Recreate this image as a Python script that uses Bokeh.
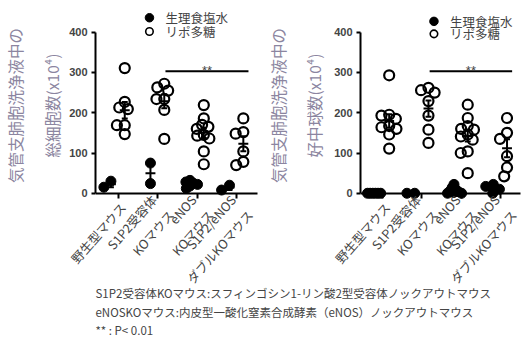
import numpy as np
from bokeh.plotting import figure
from bokeh.models import Range1d, FixedTicker, Label, LinearAxis
from bokeh.layouts import column, row
from bokeh.embed import file_html
from bokeh.resources import INLINE

# ---------------- data ----------------
groups = ["野生型マウス", "S1P2受容体\nKOマウス", "eNOS\nKOマウス", "S1P2/eNOS\nダブルKOマウス"]
group_pos = [1, 2, 3, 4]
series = ["生理食塩水", "リポ多糖"]
y_ticks = [0, 100, 200, 300, 400]

total_saline = [[15, 30], [75, 24], [32, 28, 25, 22, 18, 12], [8, 20]]
total_lps = [[311, 227, 213, 209, 169, 169, 147],
             [272, 263, 255, 234, 234, 207, 135],
             [219, 186, 170, 165, 160, 145, 143, 136, 104, 72],
             [186, 152, 148, 104, 78, 70]]
neut_saline = [[0, 0, 0, 0, 0, 0], [0, 0], [22, 14, 10, 6, 4, 2, 0, 0], [0, 10, 17, 22]]
neut_lps = [[293, 195, 193, 185, 167, 164, 160, 146, 111],
            [262, 256, 250, 229, 193, 158, 125],
            [220, 187, 167, 160, 158, 146, 141, 133, 104, 100, 50],
            [187, 150, 135, 92, 64, 42]]

title_total = "気管支肺胞洗浄液中の\n総細胞数(x10⁴)"
title_neut = "気管支肺胞洗浄液中の\n好中球数(x10⁴)"
sig_text = "**"
sig_span = (2.2, 4.3)
sig_level = 303
footnotes = ["S1P2受容体KOマウス:スフィンゴシン1-リン酸2型受容体ノックアウトマウス",
             "eNOSKOマウス:内皮型一酸化窒素合成酵素（eNOS）ノックアウトマウス",
             "**  : P< 0.01"]

# ---------------- style / layout ----------------
JP = "Noto Sans CJK JP"
TITLE_COLOR = "#8b85a0"
H = 312
BT, BB = 10, 112
Y0, Y1 = -18, 454
SIDE = [-0.18, 0.17]
LABEL_SHIFT = 0.12
FOOT_H = 80


def swarm(vals, px_y, D=11.0, wmax=8.0):
    ys = np.asarray(vals, float) * px_y
    order = np.argsort(-ys, kind="stable")
    d = D
    while True:
        xs = np.zeros(len(ys))
        placed = []
        for i in order:
            cands = [0.0]
            for j in placed:
                dy = abs(ys[i] - ys[j])
                if dy < d:
                    h = np.sqrt(d * d - dy * dy)
                    cands += [xs[j] - h, xs[j] + h]
            cands.sort(key=lambda c: (round(abs(c), 6), c))
            for c in cands:
                if all((c - xs[j]) ** 2 + (ys[i] - ys[j]) ** 2 >= d * d - 1e-3 for j in placed):
                    xs[i] = c
                    break
            placed.append(i)
        if np.max(np.abs(xs)) <= wmax or d < 1.5:
            return xs
        d *= 0.92


def panel(width, bl, br, x_start, x_end, axis_end, title, title_lh, title_standoff,
          saline, lps, legend_x, legend_ys):
    p = figure(width=width, height=H, output_backend="svg", toolbar_location=None,
               x_range=Range1d(x_start, x_end), y_range=Range1d(Y0, Y1),
               min_border_left=bl, min_border_right=br, min_border_top=BT,
               min_border_bottom=BB)
    p.outline_line_color = None
    p.grid.visible = False
    p.background_fill_color = "white"
    fw = width - bl - br
    px_x = fw / (x_end - x_start)
    px_y = (H - BT - BB) / (Y1 - Y0)

    # y axis (at frame left)
    ya = p.yaxis[0]
    ya.axis_line_width = 2
    ya.major_tick_line_width = 2
    ya.minor_tick_line_color = None
    ya.major_tick_in = 0
    ya.major_tick_out = 4
    ya.ticker = FixedTicker(ticks=y_ticks)
    ya.bounds = (0, 400)
    ya.major_label_standoff = 4
    ya.major_label_text_font = "Liberation Sans"
    ya.major_label_text_font_style = "bold"
    ya.major_label_text_font_size = "11px"
    ya.axis_label = title
    ya.axis_label_text_font = JP
    ya.axis_label_text_font_size = "15.5px"
    ya.axis_label_text_font_style = "normal"
    ya.axis_label_text_color = TITLE_COLOR
    ya.axis_label_text_line_height = title_lh
    ya.axis_label_standoff = title_standoff

    # x tick labels (below the frame)
    label_pos = [g + LABEL_SHIFT for g in group_pos]
    xa = p.below[0]
    xa.ticker = FixedTicker(ticks=label_pos)
    xa.axis_line_color = None
    xa.major_tick_line_color = None
    xa.minor_tick_line_color = None
    xa.major_tick_in = 0
    xa.major_tick_out = 0
    xa.major_label_overrides = {lp: t for lp, t in zip(label_pos, groups)}
    xa.major_label_orientation = 0.85
    xa.major_label_text_font = JP
    xa.major_label_text_font_size = "12.5px"
    xa.major_label_standoff = 4

    # x axis line + ticks at y = 0
    xline = LinearAxis(fixed_location=0, ticker=FixedTicker(ticks=group_pos),
                       bounds=(x_start, axis_end), axis_line_width=2,
                       major_tick_line_width=2, major_tick_in=5, major_tick_out=0,
                       minor_tick_line_color=None,
                       major_label_overrides={g: "" for g in group_pos})
    p.add_layout(xline, "above")

    # points
    for si, data in enumerate((saline, lps)):
        xs_all, ys_all = [], []
        for g, vals in zip(group_pos, data):
            off = swarm(vals, px_y)
            xs_all += list(g + SIDE[si] + off / px_x)
            ys_all += list(vals)
        if si == 0:
            p.scatter(xs_all, ys_all, size=10, marker="circle", fill_color="black",
                      line_color="black", line_width=1)
        else:
            p.scatter(xs_all, ys_all, size=10, marker="circle", fill_color=None,
                      line_color="black", line_width=2.2)
    # mean +/- SEM
    for si, data in enumerate((saline, lps)):
        x0s, x1s, y0s, y1s = [], [], [], []
        for g, vals in zip(group_pos, data):
            v = np.asarray(vals, float)
            m = v.mean()
            s = v.std(ddof=1) / np.sqrt(len(v))
            c = g + SIDE[si]
            hw, cw = 5 / px_x, 3 / px_x
            x0s += [c - hw, c, c - cw, c - cw]
            x1s += [c + hw, c, c + cw, c + cw]
            y0s += [m, m - s, m + s, m - s]
            y1s += [m, m + s, m + s, m - s]
        p.segment(x0s, y0s, x1s, y1s, line_color="black", line_width=2)

    # significance
    p.segment([sig_span[0]], [sig_level], [sig_span[1]], [sig_level],
              line_color="black", line_width=2)
    p.add_layout(Label(x=sum(sig_span) / 2, y=sig_level, y_offset=1, text=sig_text,
                       text_align="center", text_baseline="alphabetic",
                       text_font="Liberation Sans", text_font_size="13px"))

    # legend
    p.scatter([legend_x], [legend_ys[0]], size=8.5, marker="circle",
              fill_color="black", line_color="black")
    p.scatter([legend_x], [legend_ys[1]], size=7.5, marker="circle",
              fill_color=None, line_color="black", line_width=1.6)
    for name, ly in zip(series, legend_ys):
        p.add_layout(Label(x=legend_x, y=ly, x_offset=16, text=name, text_align="left",
                           text_baseline="middle", text_font=JP, text_font_size="12.5px"))
    return p


p1 = panel(263, 94, 4, 0.43, 4.579, 4.53, title_total, 1.7, 3,
           total_saline, total_lps, 1.795, [436, 402])
p2 = panel(263, 95, 4, 0.44, 4.564, 4.51, title_neut, 1.65, 6,
           neut_saline, neut_lps, 2.31, [427, 396])

p3 = figure(width=526, height=FOOT_H, output_backend="svg", toolbar_location=None,
            x_range=Range1d(0, 526), y_range=Range1d(0, FOOT_H),
            x_axis_location=None, y_axis_location=None, min_border=0)
p3.margin = (337 - H - FOOT_H, 0, 0, 0)
p3.outline_line_color = None
p3.background_fill_color = None
p3.border_fill_color = None
p3.grid.visible = False
for t, ly in zip(footnotes, [45, 26, 8]):
    p3.add_layout(Label(x=95, y=ly, text=t, text_align="left", text_baseline="middle",
                        text_font=JP, text_font_size="11.5px"))

layout = column(row(p1, p2), p3)
open("out.html", "w").write(file_html(layout, INLINE))
